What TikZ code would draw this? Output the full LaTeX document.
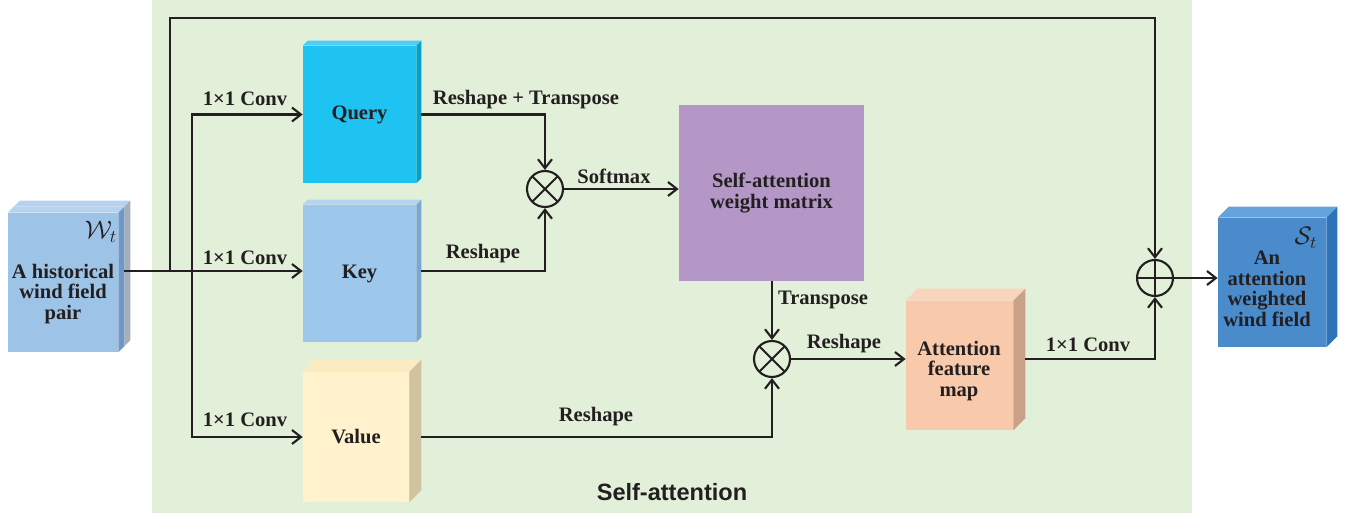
\documentclass[tikz,border=0pt]{standalone}
\usepackage{fontspec}
\setmainfont{Liberation Serif}
\setsansfont{Liberation Sans}
\newfontfamily\labelfont{Liberation Serif}
\usetikzlibrary{calc, arrows.meta}
\definecolor{bggreen}{HTML}{E2EFD9}
\definecolor{inkgray}{HTML}{231F20}
\definecolor{qfront}{HTML}{1FC3F2}
\definecolor{qtop}{HTML}{4DCEF4}
\definecolor{qside}{HTML}{00A3CC}
\definecolor{kfront}{HTML}{9DC8EB}
\definecolor{ktop}{HTML}{B3D5F0}
\definecolor{kside}{HTML}{7BA8D3}
\definecolor{vfront}{HTML}{FFF2CC}
\definecolor{vtop}{HTML}{FBEBC0}
\definecolor{vside}{HTML}{CFC3A0}
\definecolor{matfill}{HTML}{B497C7}
\definecolor{afront}{HTML}{F8C9AB}
\definecolor{atop}{HTML}{FAD5BD}
\definecolor{aside}{HTML}{C9A088}
\definecolor{ofront}{HTML}{4A8BCB}
\definecolor{otop}{HTML}{65A3DC}
\definecolor{oside}{HTML}{2E72B8}
\definecolor{ifront}{HTML}{9DC3E6}
\definecolor{itop}{HTML}{B5D3EF}
\definecolor{iside}{HTML}{6F98C6}
\definecolor{iback}{HTML}{A6AEB8}
% top and right faces of a box node: node, depth, top colour, side colour
\newcommand{\cubefaces}[4]{%
  \fill[#3] (#1.north west) -- ++(#2,-#2) -- ($(#1.north east)+(#2,-#2)$) -- (#1.north east) -- cycle;
  \fill[#4] (#1.north east) -- ++(#2,-#2) -- ($(#1.south east)+(#2,-#2)$) -- (#1.south east) -- cycle;
}
\tikzset{
	boxnode/.style={
			shape=rectangle,
			draw=none,
			inner sep=0pt,
			align=center,
			text=inkgray,
			font=\labelfont\bfseries\fontsize{11.7}{11.7}\selectfont
		},
	opnode/.style={
			circle,
			draw=inkgray,
			line width=1.2pt,
			minimum size=0.72cm,
			inner sep=0pt
		},
	mulnode/.style={
			opnode,
			path picture={
					\draw[line width=1.2pt, inkgray] (path picture bounding box.north west) -- (path picture bounding box.south east);
					\draw[line width=1.2pt, inkgray] (path picture bounding box.south west) -- (path picture bounding box.north east);
				}
		},
	addnode/.style={
			opnode,
			path picture={
					\draw[line width=1.2pt, inkgray] (path picture bounding box.north) -- (path picture bounding box.south);
					\draw[line width=1.2pt, inkgray] (path picture bounding box.west) -- (path picture bounding box.east);
				}
		},
	lbl/.style={
			inner sep=0pt,
			align=center,
			text=inkgray,
			font=\labelfont\bfseries\fontsize{11.7}{11.7}\selectfont
		},
	mathlbl/.style={
			inner sep=0pt,
			text=inkgray,
			font=\fontsize{14}{14}\selectfont
		},
	conn/.style={
			line width=1.2pt,
			draw=inkgray
		},
	arr/.style={
			conn,
			-{Straight Barb[length=1.8mm, width=2.8mm]}
		}
}

\begin{document}
\begin{tikzpicture}[x=0.02cm, y=-0.02cm]

  \useasboundingbox (0,0) rectangle (1347,513);
  \fill[bggreen] (152,0) rectangle (1192,513);

  % boxes
  \node[boxnode, minimum width=2.2cm, minimum height=2.78cm] (inb) at (69,276.5) {};
  \cubefaces{inb}{6}{itop}{iback}
  \node[boxnode, fill=ifront, minimum width=2.2cm, minimum height=2.78cm] (in) at (63,282.5) {};
  \cubefaces{in}{6}{itop}{iside}

  \node[boxnode, fill=qfront, minimum width=2.26cm, minimum height=2.74cm] (q) at (359.5,114.5) {Query};
  \cubefaces{q}{5}{qtop}{qside}
  \node[boxnode, fill=kfront, minimum width=2.26cm, minimum height=2.74cm] (k) at (359.5,273.5) {Key};
  \cubefaces{k}{5}{ktop}{kside}
  \node[boxnode, fill=vfront, minimum width=2.12cm, minimum height=2.6cm] (v) at (356,437) {Value};
  \cubefaces{v}{12}{vtop}{vside}

  \node[boxnode, fill=matfill, minimum width=3.7cm, minimum height=3.52cm] (mat) at (771.5,193) {Self-attention\\weight matrix};

  \node[boxnode, fill=afront, minimum width=2.14cm, minimum height=2.58cm] (afm) at (959.5,365.5) {};
  \cubefaces{afm}{12}{atop}{aside}
  \node[boxnode, fill=ofront, minimum width=2.16cm, minimum height=2.58cm] (out) at (1272,282.5) {};
  \cubefaces{out}{11}{otop}{oside}

  \node[lbl] (intxt) at (63,294) {A historical\\wind field\\pair};
  \node[mathlbl] (wt) at (101,232) {$\mathcal{W}_t$};
  \node[lbl] (afmtxt) at (959,371) {Attention\\feature\\map};
  \node[lbl] (outtxt) at (1267,289) {An\\attention\\weighted\\wind field};
  \node[mathlbl] (st) at (1306,238) {$\mathcal{S}_t$};

  % operators
  \node[mulnode] (m1) at (545,189) {};
  \node[mulnode] (m2) at (772,359) {};
  \node[addnode] (pl) at (1155,278) {};

  % connectors
  \coordinate (inout) at (124,271);
  \coordinate (sk) at (170,271);
  \coordinate (br) at (192,271);
  \draw[arr] (inout) -- (inout -| k.west);
  \draw[arr] (sk) -- (170,18) -| (pl.north);
  \draw[arr] (br) |- (q.west);
  \draw[arr] (br) |- (v.west);
  \draw[arr] ([xshift=0.1cm]q.east) -| (m1.north);
  \draw[arr] ([xshift=0.1cm]k.east |- inout) -| (m1.south);
  \draw[arr] (m1.east) -- (m1.east -| mat.west);
  \draw[arr] (mat.south -| m2) -- (m2.north);
  \draw[arr] ([xshift=0.24cm]v.east) -| (m2.south);
  \draw[arr] (m2.east) -- (m2.east -| afm.west);
  \draw[arr] ([xshift=0.24cm]afm.east |- m2.east) -| (pl.south);
  \draw[arr] (pl.east) -- (pl.east -| out.west);

  % labels
  \node[lbl] (c1) at (245,99) {1\texttimes1 Conv};
  \node[lbl] (c2) at (245,258) {1\texttimes1 Conv};
  \node[lbl] (c3) at (245,420) {1\texttimes1 Conv};
  \node[lbl] (r1) at (526,100) {Reshape + Transpose};
  \node[lbl] (r2) at (483,254) {Reshape};
  \node[lbl] (sm) at (614,176) {Softmax};
  \node[lbl] (tp) at (823,300) {Transpose};
  \node[lbl] (r3) at (844,344) {Reshape};
  \node[lbl] (r4) at (596,417) {Reshape};
  \node[lbl] (c4) at (1088,345) {1\texttimes1 Conv};
  \node[inner sep=0pt, text=inkgray, font=\sffamily\bfseries\fontsize{13.4}{13.4}\selectfont] (sa) at (672,492) {Self-attention};

\end{tikzpicture}
\end{document}
